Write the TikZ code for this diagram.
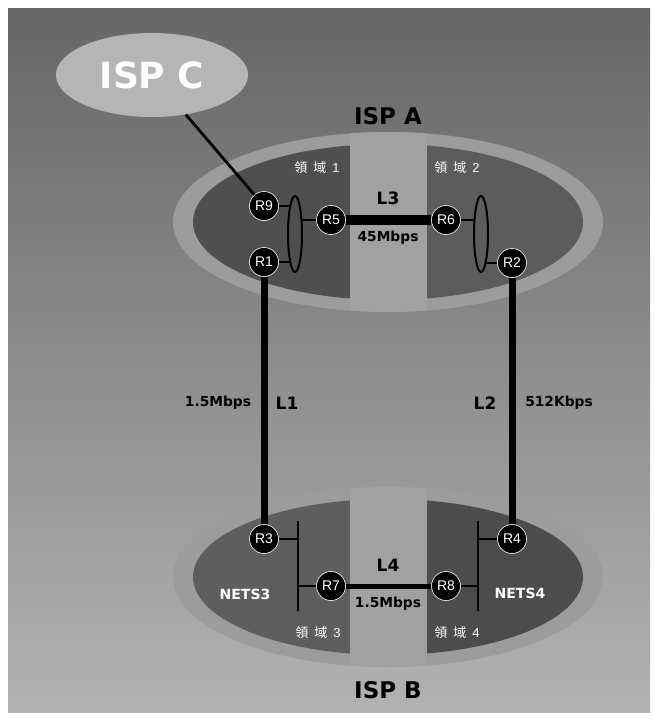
\documentclass[tikz,border=0pt]{standalone}
\usepackage{fontspec}
\setmainfont{Liberation Sans}
\newfontfamily\heavy{DejaVu Sans}
\newfontfamily\cjk{Noto Sans CJK TC}
\usetikzlibrary{shapes.geometric}
\definecolor{bgtop}{gray}{0.40}
\definecolor{bgmid}{gray}{0.56}
\definecolor{bgbot}{gray}{0.70}
\definecolor{ispcgray}{gray}{0.71}
\definecolor{ringgray}{gray}{0.61}
\definecolor{bandgray}{gray}{0.63}
\definecolor{darkAL}{gray}{0.31}
\definecolor{darkAR}{gray}{0.36}
\definecolor{darkBL}{gray}{0.37}
\definecolor{darkBR}{gray}{0.30}
\tikzset{
  router/.style={circle, fill=black, draw=white, line width=0.6pt, minimum size=29pt, inner sep=0pt, text=white, font=\fontsize{14}{14}\selectfont},
  isplabel/.style={font=\heavy\bfseries\fontsize{23}{23}\selectfont},
  linklabel/.style={font=\heavy\bfseries\fontsize{17}{17}\selectfont},
  ratelabel/.style={font=\heavy\bfseries\fontsize{13.8}{14}\selectfont},
  netlabel/.style={text=white, font=\heavy\bfseries\fontsize{14}{14}\selectfont},
  arealabel/.style={text=white, font=\fontsize{13}{13}\selectfont},
  thinlink/.style={line width=2pt},
}
\newcommand{\areatext}[1]{{\cjk 領}\hspace{6pt}{\cjk 域}\hspace{6pt}#1}

\begin{document}
\begin{tikzpicture}[x=1pt,y=-1pt]
  \useasboundingbox (0,0) rectangle (654,720);
  \shade[top color=bgtop, middle color=bgmid, bottom color=bgbot] (8,8) rectangle (650,712);

  % ISP A
  \fill[ringgray] (388,222) ellipse [x radius=215, y radius=90];
  \begin{scope}
    \clip (150,100) rectangle (350,330);
    \fill[darkAL] (388,222) ellipse [x radius=195, y radius=78];
  \end{scope}
  \begin{scope}
    \clip (427,100) rectangle (620,330);
    \fill[darkAR] (388,222) ellipse [x radius=195, y radius=78];
  \end{scope}
  \begin{scope}
    \clip (388,222) ellipse [x radius=215, y radius=90];
    \fill[bandgray] (350,100) rectangle (427,330);
  \end{scope}

  % ISP B
  \fill[ringgray] (388,577) ellipse [x radius=215, y radius=90];
  \begin{scope}
    \clip (150,450) rectangle (350,700);
    \fill[darkBL] (388,577) ellipse [x radius=195, y radius=78];
  \end{scope}
  \begin{scope}
    \clip (427,450) rectangle (620,700);
    \fill[darkBR] (388,577) ellipse [x radius=195, y radius=78];
  \end{scope}
  \begin{scope}
    \clip (388,577) ellipse [x radius=215, y radius=90];
    \fill[bandgray] (350,450) rectangle (427,700);
  \end{scope}

  % ISP C
  \node[ellipse, fill=ispcgray, minimum width=192pt, minimum height=84pt, inner sep=0pt,
        text=white, font=\heavy\bfseries\fontsize{36}{36}\selectfont] (ispc) at (152,75) {ISP C};

  % routers
  \node[router] (r9) at (264,206) {R9};
  \node[router] (r5) at (331,220) {R5};
  \node[router] (r1) at (264,262) {R1};
  \node[router] (r6) at (446,220) {R6};
  \node[router] (r2) at (512,263) {R2};
  \node[router] (r3) at (264,539) {R3};
  \node[router] (r7) at (331,586) {R7};
  \node[router] (r8) at (446,586) {R8};
  \node[router] (r4) at (512,539) {R4};

  % rings and buses
  \coordinate (ringL) at (295,234);
  \coordinate (ringR) at (481,234);
  \coordinate (busLtop) at (298,521);
  \coordinate (busLbot) at (298,611);
  \coordinate (busRtop) at (478,521);
  \coordinate (busRbot) at (478,611);

  \draw[thinlink] (r9) -- (r9 -| ringL);
  \draw[thinlink] (r1) -- (r1 -| ringL);
  \draw[thinlink] (r5) -- (r5 -| ringL);
  \draw[thinlink] (r6) -- (r6 -| ringR);
  \draw[thinlink] (r2) -- (r2 -| ringR);
  \draw[thinlink, fill=darkAL] (ringL) ellipse [x radius=7, y radius=38];
  \draw[thinlink, fill=darkAR] (ringR) ellipse [x radius=7, y radius=38];

  \draw[thinlink] (busLtop) -- (busLbot);
  \draw[thinlink] (busRtop) -- (busRbot);
  \draw[thinlink] (r3) -- (r3 -| busLtop);
  \draw[thinlink] (r7) -- (r7 -| busLtop);
  \draw[thinlink] (r4) -- (r4 -| busRtop);
  \draw[thinlink] (r8) -- (r8 -| busRtop);

  % links
  \draw[line width=2.8pt] (ispc) -- (r9);
  \draw[line width=10pt] (r5) -- (r6);
  \draw[line width=5pt] (r7) -- (r8);
  \draw[line width=7pt] (r1) -- (r3);
  \draw[line width=7pt] (r2) -- (r4);

  % labels
  \node[isplabel] (ispa) at (388,116) {ISP A};
  \node[isplabel] (ispb) at (388,690) {ISP B};
  \node[linklabel] (l3) at (388,198) {L3};
  \node[ratelabel] (l3rate) at (388,238) {45Mbps};
  \node[linklabel] (l4) at (388,565) {L4};
  \node[ratelabel] (l4rate) at (388,604) {1.5Mbps};
  \node[ratelabel] (l1rate) at (218,403) {1.5Mbps};
  \node[linklabel] (l1) at (287,403) {L1};
  \node[linklabel] (l2) at (485,403) {L2};
  \node[ratelabel] (l2rate) at (559,403) {512Kbps};
  \node[netlabel] (nets3) at (245,594) {NETS3};
  \node[netlabel] (nets4) at (520,593) {NETS4};
  \node[arealabel] (area1) at (317,168) {\areatext{1}};
  \node[arealabel] (area2) at (457,168) {\areatext{2}};
  \node[arealabel] (area3) at (318,633) {\areatext{3}};
  \node[arealabel] (area4) at (457,633) {\areatext{4}};
\end{tikzpicture}
\end{document}
